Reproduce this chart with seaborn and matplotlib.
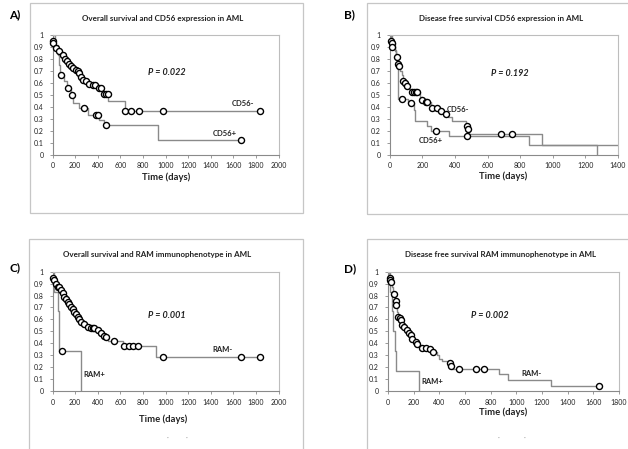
import matplotlib
matplotlib.use("Agg")
import matplotlib.pyplot as plt
from matplotlib.patches import Rectangle
import seaborn as sns
import numpy as np
import pandas as pd

sns.set_theme(style="white")
plt.rcParams['font.family'] = ['Lato', 'DejaVu Sans']

# ---------------- data (days, survival) ----------------
# Panel A: overall survival, CD56
a_neg_t = [0, 2, 5, 20, 50, 80, 100, 118, 140, 158, 175, 200, 215, 230, 245, 258, 285, 315, 340, 400, 450, 495, 640]
a_neg_s = [1.0, 0.95, 0.93, 0.89, 0.86, 0.83, 0.80, 0.78, 0.755, 0.74, 0.725, 0.71, 0.695, 0.68, 0.645, 0.625, 0.61, 0.59, 0.583, 0.556, 0.506, 0.45, 0.365]
a_neg_end = 1833
a_neg_cens = [3, 7, 35, 59, 89, 110, 124, 148, 163, 183, 207, 222, 237, 252, 266, 296, 326, 355, 379, 414, 429,
              459, 474, 488, 645, 695, 763, 976, 1833]
a_pos_t = [0, 20, 45, 55, 65, 105, 130, 165, 185, 236, 311, 415, 458, 931]
a_pos_s = [1.0, 0.917, 0.833, 0.75, 0.667, 0.611, 0.556, 0.5, 0.43, 0.389, 0.333, 0.292, 0.25, 0.125]
a_pos_end = 1665
a_pos_cens = [74, 135, 175, 280, 384, 399, 473, 1665]

# Panel B: disease free survival, CD56
b_neg_t = [0, 5, 8, 12, 14, 30, 40, 48, 54, 65, 75, 82, 89, 100, 120, 135, 185, 195, 215, 250, 310, 335, 360, 384, 470, 478, 485, 935]
b_neg_s = [1.0, 0.97, 0.95, 0.93, 0.90, 0.86, 0.81, 0.756, 0.736, 0.70, 0.66, 0.617, 0.597, 0.569, 0.545, 0.52, 0.48, 0.458, 0.44, 0.39, 0.361, 0.339, 0.31, 0.28, 0.243, 0.213, 0.17, 0.08]
b_neg_end = 1450
b_neg_cens = [9, 13, 16, 42, 50, 56, 83, 91, 103, 138, 148, 158, 168, 199, 220, 228, 257, 288, 316, 343, 475, 481, 680, 751]
b_pos_t = [0, 15, 30, 40, 46, 50, 110, 148, 157, 230, 250, 365, 857, 1273]
b_pos_s = [1.0, 0.93, 0.87, 0.80, 0.733, 0.467, 0.433, 0.37, 0.28, 0.24, 0.20, 0.153, 0.077, 0.0]
b_pos_end = 1273
b_pos_cens = [73, 128, 285, 472]

# Panel C: overall survival, RAM
c_neg_t = [0, 3, 10, 20, 40, 65, 80, 95, 110, 125, 140, 155, 170, 185, 200, 215, 230, 245, 265, 295, 325, 390, 415, 445, 465, 490, 620, 920]
c_neg_s = [1.0, 0.95, 0.93, 0.90, 0.875, 0.85, 0.82, 0.79, 0.768, 0.75, 0.726, 0.705, 0.684, 0.664, 0.645, 0.623, 0.60, 0.58, 0.559, 0.539, 0.525, 0.511, 0.483, 0.463, 0.455, 0.42, 0.377, 0.283]
c_neg_end = 1833
c_neg_cens = [5, 14, 29, 50, 59, 74, 89, 104, 118, 133, 148, 163, 178, 192, 207, 222, 237, 252, 282, 311, 341, 355,
              370, 400, 429, 459, 474, 547, 636, 680, 716, 754, 976, 1665, 1833]
c_pos_t = [0, 14, 50, 58, 60, 251]
c_pos_s = [1.0, 0.833, 0.667, 0.5, 0.333, 0.0]
c_pos_end = 251
c_pos_cens = [83]

# Panel D: disease free survival, RAM
d_neg_t = [0, 10, 15, 17, 19, 30, 40, 55, 62, 70, 75, 85, 95, 105, 120, 140, 160, 170, 185, 205, 225, 250, 310, 340, 380, 400, 420, 478, 488, 500, 864, 932, 1267]
d_neg_s = [1.0, 0.97, 0.95, 0.93, 0.916, 0.87, 0.81, 0.754, 0.72, 0.66, 0.623, 0.609, 0.595, 0.553, 0.539, 0.511, 0.483, 0.47, 0.436, 0.413, 0.391, 0.363, 0.352, 0.324, 0.30, 0.27, 0.25, 0.232, 0.209, 0.185, 0.139, 0.093, 0.046]
d_neg_end = 1643
d_neg_cens = [16, 18, 20, 47, 60, 65, 78, 91, 99, 112, 125, 151, 164, 177, 190, 216, 229, 268, 294, 328, 354,
              483, 493, 553, 683, 748, 1643]
d_pos_t = [0, 16, 30, 40, 55, 65, 240]
d_pos_s = [1.0, 0.833, 0.667, 0.5, 0.333, 0.167, 0.0]
d_pos_end = 240
d_pos_cens = []

titles = ["Overall survival and CD56 expression in AML",
          "Disease free survival CD56 expression in AML",
          "Overall survival and RAM immunophenotype in AML",
          "Disease free survival RAM immunophenotype in AML"]
letters = ["A)", "B)", "C)", "D)"]
pvals = ["P = 0.022", "P = 0.192", "P = 0.001", "P = 0.002"]
group_labels = [("CD56-", "CD56+"), ("CD56-", "CD56+"), ("RAM-", "RAM+"), ("RAM-", "RAM+")]
x_max = [2000, 1400, 2000, 1800]
y_ticks = [0, 0.1, 0.2, 0.3, 0.4, 0.5, 0.6, 0.7, 0.8, 0.9, 1.0]
y_ticklabels = ["0", "0.1", "0.2", "0.3", "0.4", "0.5", "0.6", "0.7", "0.8", "0.9", "1"]

# ---------------- layout ----------------
W, H = 628, 449
fig = plt.figure(figsize=(6.28, 4.49), dpi=100)
fig.patch.set_facecolor("white")

LINE = "#8a8a8a"
FRAME = "#c6c6c6"
AXC = "#8a8a8a"
TXT = "#222222"


def fx(x):
    return x / W


def fy(y):
    return 1 - y / H


def add_ax(x0, x1, yt, yb):
    return fig.add_axes([fx(x0), fy(yb), (x1 - x0) / W, (yb - yt) / H])


def step_at(t, s, x):
    i = np.searchsorted(np.asarray(t), x, side="right") - 1
    return s[max(i, 0)]


def draw_curve(ax, t, s, tend, cens):
    tt = list(t) + [tend]
    ss = list(s) + [s[-1]]
    df = pd.DataFrame({"t": tt, "s": ss})
    sns.lineplot(data=df, x="t", y="s", drawstyle="steps-post", color=LINE, lw=1.0,
                 ax=ax, estimator=None, sort=False)
    if len(cens):
        cs = [step_at(t, s, c) for c in cens]
        sns.scatterplot(x=cens, y=cs, marker="o", s=19, color="white", edgecolor="black",
                        linewidth=1.0, ax=ax, zorder=4, clip_on=False)


# panel boxes
boxes = [(30, 3, 303, 213), (367, 3, 640, 214), (29, 239, 303, 460), (367, 239, 640, 460)]
for (x0, y0, x1, y1) in boxes:
    fig.add_artist(Rectangle((fx(x0), fy(y1)), (x1 - x0) / W, (y1 - y0) / H,
                             transform=fig.transFigure, fill=False, edgecolor=FRAME, lw=0.9))

# axes rectangles (pixels)
ax_rects = [(52.5, 278.5, 34.7, 154.7), (389.8, 618.0, 34.7, 154.7),
            (52.5, 278.5, 271.7, 391.0), (388.0, 619.0, 271.7, 391.0)]

curves = [
    [(a_neg_t, a_neg_s, a_neg_end, a_neg_cens), (a_pos_t, a_pos_s, a_pos_end, a_pos_cens)],
    [(b_neg_t, b_neg_s, b_neg_end, b_neg_cens), (b_pos_t, b_pos_s, b_pos_end, b_pos_cens)],
    [(c_neg_t, c_neg_s, c_neg_end, c_neg_cens), (c_pos_t, c_pos_s, c_pos_end, c_pos_cens)],
    [(d_neg_t, d_neg_s, d_neg_end, d_neg_cens), (d_pos_t, d_pos_s, d_pos_end, d_pos_cens)],
]

# text positions in data coords (label -, label +, P value)
neg_pos = [(1686, 0.43), (417, 0.38), (1508, 0.35), (1118, 0.15)]
pos_pos = [(1523, 0.18), (251, 0.12), (369, 0.14), (345, 0.08)]
p_pos = [(1011, 0.683), (737, 0.68), (1011, 0.63), (792, 0.63)]

title_xy = [(163, 18.3), (500.7, 18.3), (157, 254.3), (500.7, 254.3)]
xlabel_xy = [(165.7, 177.3), (503.3, 176.7), (163.3, 419), (503, 412.7)]
letter_xy = [(15, 15), (349, 15), (15, 268), (349.7, 268.3)]

for k in range(4):
    x0, x1, yt, yb = ax_rects[k]
    ax = add_ax(x0, x1, yt, yb)
    ax.set_facecolor("none")
    for (t, s, tend, cens) in curves[k]:
        draw_curve(ax, t, s, tend, cens)
    ax.set_xlim(0, x_max[k])
    ax.set_ylim(0, 1)
    ax.set_xticks(np.arange(0, x_max[k] + 1, 200))
    ax.set_xticklabels([str(v) for v in np.arange(0, x_max[k] + 1, 200)])
    ax.set_yticks(y_ticks)
    ax.set_yticklabels(y_ticklabels)
    ax.set_xlabel("")
    ax.set_ylabel("")
    ax.tick_params(axis="both", which="both", bottom=True, left=True, direction="out",
                   length=2.5, width=0.6, color=AXC, labelsize=5, labelcolor=TXT)
    ax.tick_params(axis="x", pad=3)
    ax.tick_params(axis="y", pad=4)
    for sp in ["left", "bottom"]:
        ax.spines[sp].set_color(AXC)
        ax.spines[sp].set_linewidth(0.8)
    for sp in ["top", "right"]:
        ax.spines[sp].set_color("#bdbdbd")
        ax.spines[sp].set_linewidth(0.8)
        ax.spines[sp].set_visible(True)
    ax.text(*neg_pos[k], group_labels[k][0], fontsize=5.5, fontweight="bold", color=TXT,
            ha="center", va="center")
    ax.text(*pos_pos[k], group_labels[k][1], fontsize=5.5, fontweight="bold", color=TXT,
            ha="center", va="center")
    ax.text(*p_pos[k], pvals[k], fontsize=6.5, fontweight="bold", fontstyle="italic",
            color=TXT, ha="center", va="center")

    fig.text(fx(title_xy[k][0]), fy(title_xy[k][1]), titles[k], fontsize=5.8,
             fontweight="bold", color=TXT, ha="center", va="center")
    fig.text(fx(xlabel_xy[k][0]), fy(xlabel_xy[k][1]), "Time (days)", fontsize=6.8,
             fontweight="bold", color=TXT, ha="center", va="center")
    fig.text(fx(letter_xy[k][0]), fy(letter_xy[k][1]), letters[k], fontsize=8.5,
             fontweight="bold", color="black", ha="center", va="center")

# faint marks near the bottom of panels C and D
for (px, py) in [(168, 438), (187, 438), (499, 438), (525, 438)]:
    fig.text(fx(px), fy(py), "·", fontsize=5, color="#9a9a9a", ha="center", va="center")

fig.savefig("out.png", dpi=100, facecolor="white")
